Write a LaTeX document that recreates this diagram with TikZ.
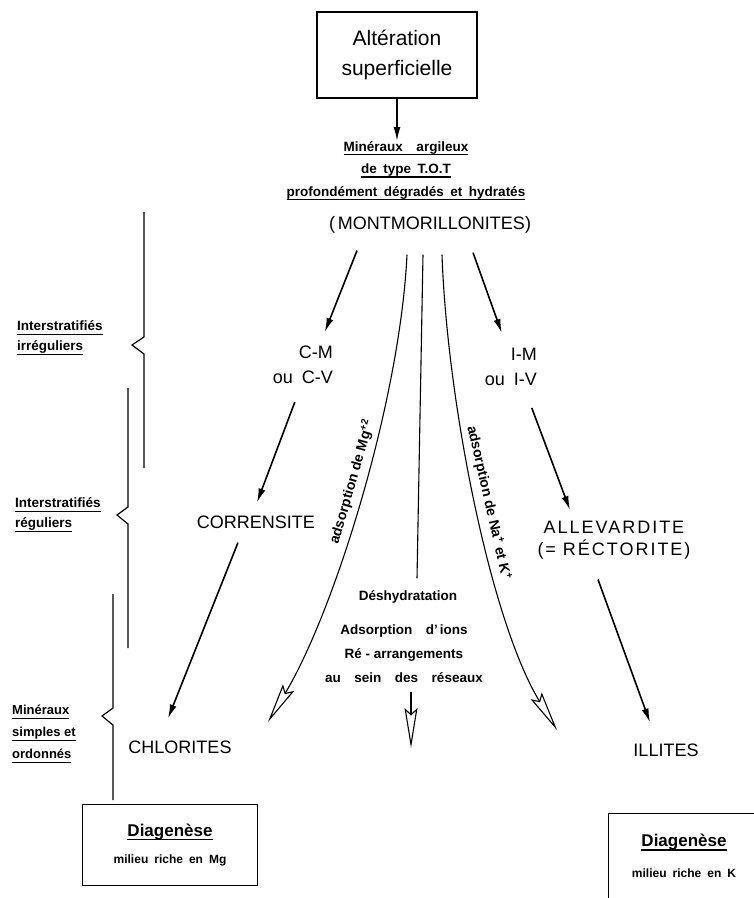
\documentclass[tikz,border=0pt]{standalone}
\usepackage{fontspec}
\setmainfont{Liberation Sans}
\usetikzlibrary{arrows.meta,positioning}

\newcommand{\undl}[1]{\leavevmode\setbox0\hbox{#1}\rlap{\rule[-4pt]{\wd0}{1.2pt}}\box0}
\newcommand{\widesp}{\spaceskip=6.5pt\relax}

\tikzset{
  box/.style={draw, line width=1.4pt},
  big/.style={inner sep=0pt, font=\fontsize{18}{25}\selectfont},
  note/.style={inner sep=0pt, font=\bfseries\fontsize{13.5}{20}\selectfont},
  arr/.style={line width=1.6pt, -{Latex[length=14pt,width=7pt]}},
  curve/.style={line width=1.1pt, -{Stealth[open,length=40pt,width=13pt,inset=6pt]}},
  brace/.style={line width=1.2pt},
}

\begin{document}
\begin{tikzpicture}[x=1pt, y=-1pt]
  \clip (0,0) rectangle (754,898);

  % source
  \node[box, minimum width=160pt, minimum height=86pt, align=center,
        font=\fontsize{21}{30}\selectfont] (alt) at (397,55) {Altération\\superficielle};
  \node[note, anchor=north, align=center, font=\bfseries\fontsize{13.5}{22.5}\selectfont\widesp]
        (tot) at (406,141) {\undl{Minéraux\quad argileux}\\\undl{de type T.O.T}\\\undl{profondément dégradés et hydratés}};
  \node[big] (mont) at (430,225) {(\,MONTMORILLONITES)};

  % clay minerals
  \node[big, anchor=north east, align=right] (cm) at (333,346) {C-M\\ou\enspace C-V};
  \node[big, anchor=north east, align=right] (im) at (537,348) {I-M\\ou\enspace I-V};
  \node[big] (corr) at (256,522) {CORRENSITE};
  \node[big, anchor=north, align=center, font=\fontsize{18}{22}\selectfont\addfontfeature{LetterSpace=11}]
        (allev) at (614,521) {ALLEVARDITE\\(= RÉCTORITE)};
  \node[big] (chl) at (180,747) {CHLORITES};
  \node[big] (ill) at (666,750) {ILLITES};

  % processes
  \node[note] (desh) at (408,597) {Déshydratation};
  \node[note, align=center, font=\bfseries\fontsize{13.5}{24}\selectfont]
        (proc) at (404,654) {Adsorption\quad d'\,ions\\Ré - arrangements\\au\quad sein\quad des\quad réseaux};
  \coordinate (mgend) at (268,722);
  \coordinate (procend) at (411,748);
  \coordinate (naend) at (557,730);

  % levels
  \node[note, anchor=west, align=left] (irr) at (17,338) {\undl{Interstratifiés}\\\undl{irréguliers}};
  \node[note, anchor=west, align=left] (reg) at (15,515) {\undl{Interstratifiés}\\\undl{réguliers}};
  \node[note, anchor=west, align=left, font=\bfseries\fontsize{13}{22}\selectfont]
        (simp) at (12,734) {\undl{Minéraux}\\\undl{simples et}\\\undl{ordonnés}};
  \draw[brace] (144,212) -- (144,337) -- (132,345) -- (144,354) -- (144,468);
  \draw[brace] (128,388) -- (128,507) -- (117,515) -- (128,524) -- (128,648);
  \draw[brace] (113,594) -- (113,708) -- (102,716) -- (113,725) -- (113,800);

  % diagenesis
  \node[box, minimum width=175pt, minimum height=81pt, align=center,
        font=\bfseries\fontsize{12}{27}\selectfont] (diagmg) at (170,845)
        {{\fontsize{17}{27}\selectfont\undl{Diagenèse}}\\milieu\enspace riche\enspace en\enspace Mg};
  \node[box, minimum width=170pt, minimum height=95pt, anchor=north west] (diagkbox) at (608,813) {};
  \node[align=center, inner sep=0pt, font=\bfseries\fontsize{12}{31}\selectfont] (diagk) at (684,856)
        {{\fontsize{17}{31}\selectfont\undl{Diagenèse}}\\milieu\enspace riche\enspace en\enspace K};

  % arrows
  \draw[arr] (alt.south) -- (alt.south |- tot.north);
  \draw[arr] ([shift={(-73,17)}]mont.south) -- ([shift={(22,-14)}]cm.north);
  \draw[arr] ([shift={(43,19)}]mont.south) -- ([shift={(-9,-15)}]im.north);
  \draw[arr] ([shift={(-8,18)}]cm.south) -- ([shift={(1,-13)}]corr.north);
  \draw[arr] ([shift={(21,22)}]im.south) -- ([shift={(-44,-11)}]allev.north);
  \draw[arr] ([shift={(-18,14)}]corr.south) -- ([shift={(-12,-22)}]chl.north);
  \draw[arr] ([shift={(-16,20)}]allev.south) -- ([shift={(-16,-21)}]ill.north);

  \draw[curve] ([shift={(-23,21)}]mont.south) .. controls (400,400) and (335,610) .. (mgend)
        node[pos=0.47, sloped, above=2pt, font=\bfseries\fontsize{14}{16}\selectfont] (mglbl)
        {adsorption de Mg\textsuperscript{+2}};
  \draw[line width=1.1pt] ([shift={(-7,21)}]mont.south) -- ([shift={(9,-12)}]desh.north);
  \draw[curve] ([shift={(7,9)}]proc.south) -- (procend);
  \draw[curve] ([shift={(12,21)}]mont.south) .. controls (447,400) and (490,620) .. (naend)
        node[pos=0.5, sloped, above=2pt, font=\bfseries\fontsize{14}{16}\selectfont] (nalbl)
        {adsorption\ de\ Na\textsuperscript{+}\ et\ K\textsuperscript{+}};
\end{tikzpicture}
\end{document}
